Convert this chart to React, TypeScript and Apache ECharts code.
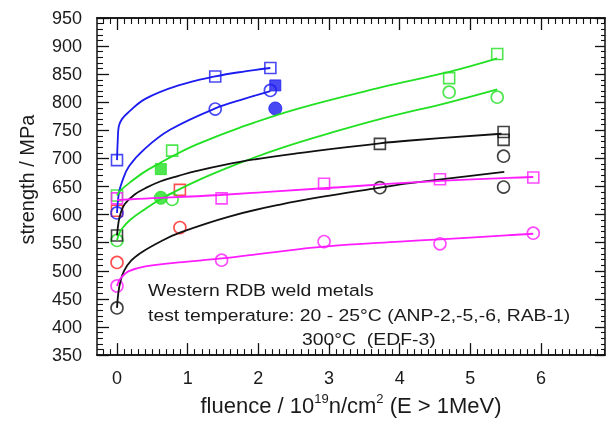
import React, { useEffect, useRef } from "react";
import * as echarts from "echarts";

// ---- axis ranges / ticks ----
const X_MIN = -0.283;
const X_MAX = 6.905;
const Y_MIN = 350;
const Y_MAX = 950;
const xTickLabels = [0, 1, 2, 3, 4, 5, 6];
const yTickStep = 50;

// ---- measured points ----
const blueSquares = [[0, 697], [1.39, 846], [2.17, 861]];
const blueSquaresFilled = [[2.24, 830]];
const blueCircles = [[0, 603], [1.39, 788], [2.17, 821]];
const blueCirclesFilled = [[2.24, 789]];

const greenSquares = [[0, 634], [0.78, 714], [4.7, 843], [5.38, 886]];
const greenSquaresFilled = [[0.62, 681]];
const greenCircles = [[0, 554], [0.78, 627], [4.7, 818], [5.38, 809]];
const greenCirclesFilled = [[0.62, 630]];

const blackSquares = [[0, 563], [3.72, 726], [5.47, 747], [5.47, 733]];
const blackCircles = [[0, 434], [3.72, 648], [5.47, 704], [5.47, 649]];

const redSquares = [[0, 607], [0.89, 644]];
const redCircles = [[0, 515], [0.89, 577]];

const magentaSquares = [[0, 629], [1.48, 629], [2.93, 655], [4.57, 663], [5.89, 666]];
const magentaCircles = [[0, 473], [1.48, 519], [2.93, 552], [4.57, 548], [5.89, 567]];

// ---- fitted curves ----
const blueSquareFit = [[0, 697], [0.01, 730], [0.025, 757], [0.07, 770], [0.16, 782], [0.4, 806], [0.87, 830], [1.39, 846], [1.81, 855], [2.17, 861]];
const blueCircleFit = [[0, 603], [0.01, 620], [0.03, 640], [0.07, 658], [0.17, 686], [0.4, 718], [0.75, 751], [1.39, 789], [1.8, 806], [2.17, 820]];
const greenUpperFit = [[0, 634], [0.05, 643], [0.18, 657], [0.4, 677], [0.61, 692], [0.8, 705], [1.13, 725], [1.74, 755], [2.54, 788], [3.72, 826], [4.7, 854], [5.38, 878]];
const greenLowerFit = [[0, 554], [0.03, 566], [0.07, 575], [0.18, 590], [0.4, 610], [0.61, 627], [1.13, 660], [1.74, 692], [2.31, 718], [3.01, 745], [3.72, 770], [4.7, 800], [5.38, 823]];
const blackUpperFit = [[0, 563], [0.02, 585], [0.05, 602], [0.11, 619], [0.25, 636], [0.4, 647], [0.61, 659], [0.87, 669], [1.13, 678], [1.74, 694], [2.54, 709], [3.72, 727], [4.15, 732], [5.44, 744]];
const blackLowerFit = [[0, 434], [0.02, 462], [0.05, 482], [0.1, 500], [0.2, 518], [0.35, 533], [0.63, 553], [0.89, 568], [1.6, 597], [2.31, 618], [3.01, 634], [3.72, 648], [4.15, 656], [5.48, 676]];
const magentaSquareFit = [[0, 626], [0.3, 628], [1.46, 635], [2.92, 647], [4.57, 660], [5.89, 667]];
const magentaCircleFit = [[0, 473], [0.02, 480], [0.06, 488], [0.16, 499], [0.4, 508], [0.87, 515], [1.48, 522], [2.2, 533], [2.93, 543], [4.0, 552], [4.57, 556], [5.89, 566]];

// ---- annotation ----
const noteLines = [
  "Western RDB weld metals",
  "test temperature: 20 - 25°C (ANP-2,-5,-6, RAB-1)",
  "300°C  (EDF-3)",
];

const BLUE = "#1c1cf0";
const GREEN = "#22e022";
const BLACK = "#111111";
const RED = "#ff1f1f";
const MAGENTA = "#ff1cff";
const FONT = "Liberation Sans, Arial, Helvetica, sans-serif";
const TXT = "#1a1a1a";

function fitLine(data: number[][], color: string) {
  return {
    type: "line",
    data,
    symbol: "none",
    showSymbol: false,
    smooth: 0.4,
    lineStyle: { color, width: 1.8 },
    silent: true,
  };
}

function marks(data: number[][], color: string, shape: string, filled: boolean) {
  const isSq = shape === "rect";
  return {
    type: "scatter",
    data,
    symbol: shape,
    symbolSize: filled ? (isSq ? 11 : 13) : isSq ? 11 : 12,
    itemStyle: filled
      ? { color, borderColor: color, borderWidth: 1 }
      : { color: "rgba(0,0,0,0)", borderColor: color, borderWidth: 1.6 },
    silent: true,
  };
}

export default function App() {
  const ref = useRef<HTMLDivElement>(null);
  useEffect(() => {
    document.body.style.margin = "0";
    const chart = echarts.init(ref.current!, null, { renderer: "svg" });

    const xMinorTicks: number[] = [];
    for (let i = -2; i <= 69; i++) if (i % 10 !== 0) xMinorTicks.push(i / 10);

    const axisLine = { show: true, onZero: false, lineStyle: { color: BLACK, width: 1.5 } };
    const majorStyle = { color: BLACK, width: 1.3 };
    const minorStyle = { color: BLACK, width: 1.1 };

    const xAx = (position: string, ticks: number[], len: number, style: any) => ({
      type: "value", min: X_MIN, max: X_MAX, position, z: 10,
      splitLine: { show: false }, axisLine,
      axisTick: { show: true, inside: true, length: len, customValues: ticks, lineStyle: style },
      axisLabel: { show: false },
    });

    const xAxis: any[] = [
      {
        ...xAx("bottom", xTickLabels, 12, majorStyle),
        axisLabel: { show: true, customValues: xTickLabels, margin: 14, fontSize: 18, color: TXT, fontFamily: FONT },
        name: "fluence / 10{sup|19}n/cm{sup|2} (E > 1MeV)",
        nameLocation: "middle",
        nameGap: 32,
        nameTextStyle: {
          fontSize: 22, color: TXT, fontFamily: FONT, lineHeight: 26,
          rich: { sup: { fontSize: 13, color: TXT, fontFamily: FONT, verticalAlign: "top", lineHeight: 26 } },
        },
      },
      xAx("bottom", xMinorTicks, 6, minorStyle),
      xAx("top", xTickLabels, 12, majorStyle),
      xAx("top", xMinorTicks, 6, minorStyle),
    ];

    const yAx = (position: string, majorLen: number, minorLen: number) => ({
      type: "value", min: Y_MIN, max: Y_MAX, interval: yTickStep, position, z: 10,
      splitLine: { show: false }, axisLine,
      axisTick: { show: true, inside: true, length: majorLen, lineStyle: majorStyle },
      minorTick: { show: true, splitNumber: 5, length: minorLen, lineStyle: minorStyle },
      axisLabel: { show: false },
    });

    const yAxis: any[] = [
      {
        ...yAx("left", 12, 6),
        axisLabel: { show: true, margin: 15, fontSize: 18, color: TXT, fontFamily: FONT },
        name: "strength / MPa",
        nameLocation: "middle",
        nameGap: 60,
        nameTextStyle: { fontSize: 20, color: TXT, fontFamily: FONT, padding: [0, 0, 0, 14] },
      },
      yAx("right", 10, 4),
    ];

    const series: any[] = [
      fitLine(blueSquareFit, BLUE),
      fitLine(blueCircleFit, BLUE),
      fitLine(greenUpperFit, GREEN),
      fitLine(greenLowerFit, GREEN),
      fitLine(blackUpperFit, BLACK),
      fitLine(blackLowerFit, BLACK),
      fitLine(magentaSquareFit, MAGENTA),
      fitLine(magentaCircleFit, MAGENTA),
      marks(redSquares, RED, "rect", false),
      marks(redCircles, RED, "circle", false),
      marks(blueSquares, BLUE, "rect", false),
      marks(blueSquaresFilled, BLUE, "rect", true),
      marks(blueCircles, BLUE, "circle", false),
      marks(blueCirclesFilled, BLUE, "circle", true),
      marks(greenSquares, GREEN, "rect", false),
      marks(greenSquaresFilled, GREEN, "rect", true),
      marks(greenCircles, GREEN, "circle", false),
      marks(greenCirclesFilled, GREEN, "circle", true),
      marks(blackSquares, BLACK, "rect", false),
      marks(blackCircles, BLACK, "circle", false),
      marks(magentaSquares, MAGENTA, "rect", false),
      marks(magentaCircles, MAGENTA, "circle", false),
    ].map((s) => ({ ...s, xAxisIndex: 0, yAxisIndex: 0 }));

    const noteStyle = (text: string) => ({
      text, fontSize: 17, fontFamily: FONT, fill: TXT,
      textAlign: "left", textVerticalAlign: "middle", align: "left", verticalAlign: "middle",
    });

    chart.setOption({
      animation: false,
      grid: { left: 97, right: 2, top: 18, bottom: 61 },
      xAxis,
      yAxis,
      series,
      graphic: [
        { type: "text", x: 148, y: 290, scaleX: 1.14, style: noteStyle(noteLines[0]), z: 10 },
        { type: "text", x: 148, y: 315, scaleX: 1.14, style: noteStyle(noteLines[1]), z: 10 },
        { type: "text", x: 302, y: 339, scaleX: 1.14, style: noteStyle(noteLines[2]), z: 10 },
      ],
    });
    return () => chart.dispose();
  }, []);
  return <div ref={ref} style={{ position: "fixed", left: 0, top: 0, width: 607, height: 423 }} />;
}
